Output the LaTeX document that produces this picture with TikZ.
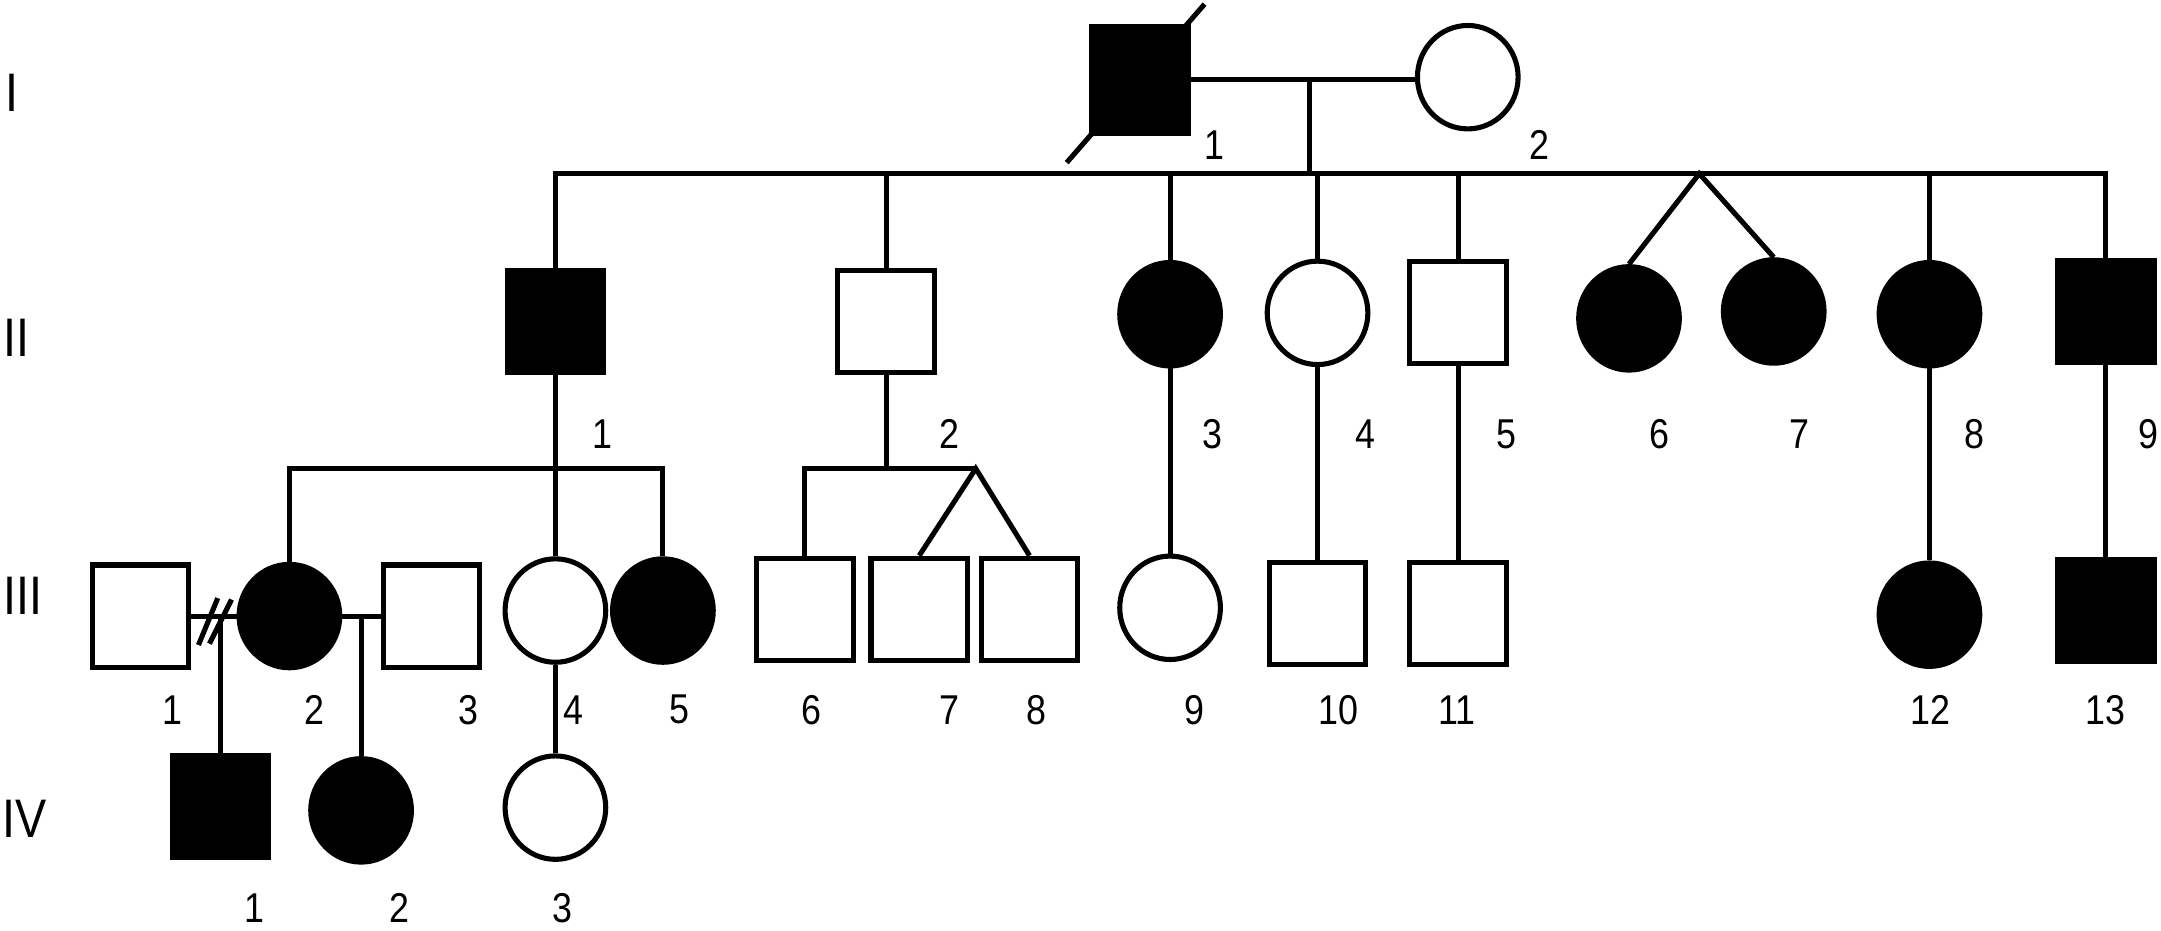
\documentclass[tikz,border=0pt]{standalone}
\usepackage{fontspec}
\setmainfont{Liberation Sans}
\newfontfamily\narrowfont[FakeStretch=0.86]{Liberation Sans}
\usetikzlibrary{shapes.geometric,calc}
\begin{document}
\begin{tikzpicture}[x=0.01cm,y=-0.01cm, line width=1.05pt,
  male/.style={rectangle, draw, minimum width=0.70cm, minimum height=0.74cm, inner sep=0pt},
  female/.style={ellipse, draw, minimum width=0.73cm, minimum height=0.75cm, inner sep=0pt},
  aff/.style={fill=black},
  num/.style={font=\narrowfont\fontsize{8.6}{10}\selectfont, inner sep=0pt},
  gen/.style={font=\narrowfont\fontsize{11.2}{13}\selectfont, inner sep=0pt}]
\useasboundingbox (0,0) rectangle (1568,675);

% generation labels
\node[gen] (gI)   at (9,67)   {I};
\node[gen] (gII)  at (12,245) {II};
\node[gen] (gIII) at (17,432) {III};
\node[gen] (gIV)  at (18,594) {IV};

% generation I
\draw (774,118) -- (874,3);
\node[male,aff,minimum height=0.77cm] (I1) at (827,58) {};
\node[female] (I2) at (1065,56) {};
\draw (I1.east) -- (I1.east -| I2.west);
\coordinate (m1) at (950,58);
\coordinate (s1) at (950,126);
\draw (m1) -- (s1);
\node[num] (lI1) at (881,105) {1};
\node[num] (lI2) at (1117,105) {2};

% generation II
\node[male,aff]   (II1) at (403,233) {};
\node[male]       (II2) at (643,233) {};
\node[female,aff] (II3) at (849,228) {};
\node[female]     (II4) at (956,227) {};
\node[male]       (II5) at (1058,227) {};
\node[female,aff] (II6) at (1182,231) {};
\node[female,aff] (II7) at (1287,226) {};
\node[female,aff] (II8) at (1400,228) {};
\node[male,aff]   (II9) at (1528,226) {};
\coordinate (tw1) at (1233,126);

\draw (II1.north) -- (II1.north |- s1) -- (II9.north |- s1) -- (II9.north);
\foreach \n in {II2,II3,II4,II5,II8} \draw (\n.north) -- (\n.north |- s1);
\draw (II6.north) -- (tw1) -- (II7.north);

\node[num] (lII1) at (437,315) {1};
\node[num] (lII2) at (689,315) {2};
\node[num] (lII3) at (880,315) {3};
\node[num] (lII4) at (991,315) {4};
\node[num] (lII5) at (1093,315) {5};
\node[num] (lII6) at (1204,315) {6};
\node[num] (lII7) at (1306,315) {7};
\node[num] (lII8) at (1433,315) {8};
\node[num] (lII9) at (1559,315) {9};

% generation III
\node[male]       (III1)  at (102,447) {};
\node[female,aff] (III2)  at (210,447) {};
\node[male]       (III3)  at (313,447) {};
\node[female]     (III4)  at (403,443) {};
\node[female,aff] (III5)  at (481,443) {};
\node[male]       (III6)  at (584,442) {};
\node[male]       (III7)  at (667,442) {};
\node[male]       (III8)  at (747,442) {};
\node[female]     (III9)  at (849,441) {};
\node[male]       (III10) at (956,445) {};
\node[male]       (III11) at (1058,445) {};
\node[female,aff] (III12) at (1400,446) {};
\node[male,aff]   (III13) at (1528,443) {};

% sibship of II-1
\coordinate (s2) at (403,340);
\draw (II1.south) -- (s2);
\draw (III2.north) -- (III2.north |- s2) -- (III5.north |- s2) -- (III5.north);
\draw (s2) -- (III4.north);

% sibship of II-2
\coordinate (s3) at (643,340);
\coordinate (tw2) at (708,340);
\draw (II2.south) -- (s3);
\draw (III6.north) -- (III6.north |- s3) -- (tw2);
\draw (III7.north) -- (tw2) -- (III8.north);

% single descents
\draw (II3.south) -- (III9.north);
\draw (II4.south) -- (III10.north);
\draw (II5.south) -- (III11.north);
\draw (II8.south) -- (III12.north);
\draw (II9.south) -- (III13.north);

\node[num] (lIII1)  at (125,515)  {1};
\node[num] (lIII2)  at (228,515)  {2};
\node[num] (lIII3)  at (340,515)  {3};
\node[num] (lIII4)  at (416,515)  {4};
\node[num] (lIII5)  at (493,515)  {5};
\node[num] (lIII6)  at (589,515)  {6};
\node[num] (lIII7)  at (689,515)  {7};
\node[num] (lIII8)  at (752,515)  {8};
\node[num] (lIII9)  at (867,515)  {9};
\node[num] (lIII10) at (971,515)  {10};
\node[num] (lIII11) at (1057,515) {11};
\node[num] (lIII12) at (1401,515) {12};
\node[num] (lIII13) at (1528,515) {13};

% generation IV
\node[male,aff]   (IV1) at (160,585) {};
\node[female,aff] (IV2) at (262,588) {};
\node[female]     (IV3) at (403,586) {};

% III-1 x III-2 (separated)
\draw (III1.east) -- (III2.west);
\coordinate (d1) at (160,447);
\draw (144,468) -- (158,434);
\draw (152,467) -- (168,435);
\draw (d1) -- (IV1.north);
% III-2 x III-3
\draw (III2.east) -- (III3.west);
\coordinate (d2) at (262,447);
\draw (d2) -- (IV2.north);
% III-4 child
\draw (III4.south) -- (IV3.north);

\node[num] (lIV1) at (185,659) {1};
\node[num] (lIV2) at (290,659) {2};
\node[num] (lIV3) at (408,659) {3};
\end{tikzpicture}
\end{document}
